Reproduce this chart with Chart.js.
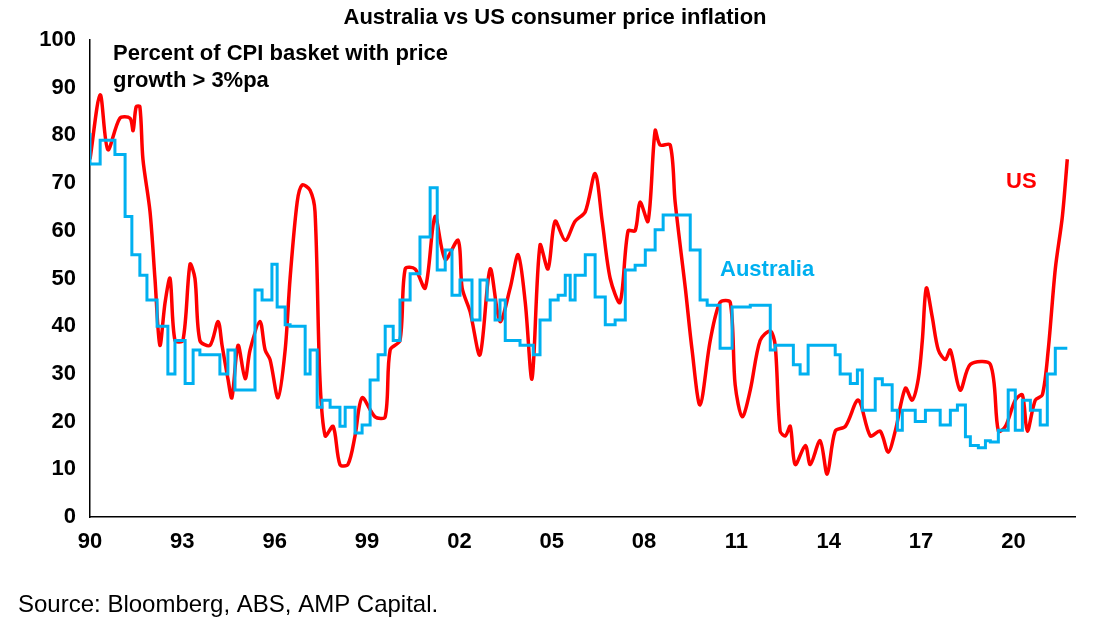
<!DOCTYPE html>
<html><head><meta charset="utf-8">
<script src="https://cdn.jsdelivr.net/npm/chart.js@4/dist/chart.umd.min.js"></script>
<style>html,body{margin:0;padding:0;background:#fff}#c{display:block}</style>
</head><body>
<canvas id="c" width="1095" height="637"></canvas>
<script>
const usYears=[1990.0,1990.33,1990.58,1990.97,1991.3,1991.4,1991.5,1991.62,1991.72,1991.95,1992.11,1992.27,1992.44,1992.6,1992.76,1993.02,1993.25,1993.41,1993.57,1993.9,1994.16,1994.29,1994.48,1994.61,1994.81,1995.04,1995.2,1995.52,1995.69,1995.85,1996.11,1996.34,1996.5,1996.73,1996.89,1997.15,1997.31,1997.47,1997.64,1997.9,1998.12,1998.38,1998.61,1998.84,1999.26,1999.59,1999.75,2000.07,2000.24,2000.56,2000.89,2001.21,2001.54,2001.96,2002.09,2002.35,2002.67,2003.0,2003.32,2003.65,2003.91,2004.14,2004.36,2004.62,2004.88,2005.11,2005.44,2005.76,2006.09,2006.41,2006.64,2006.9,2007.22,2007.48,2007.71,2007.87,2008.13,2008.36,2008.52,2008.85,2009.01,2009.34,2009.56,2009.82,2010.15,2010.47,2010.8,2010.96,2011.19,2011.45,2011.77,2012.1,2012.26,2012.42,2012.59,2012.75,2012.91,2013.24,2013.4,2013.72,2013.95,2014.21,2014.54,2014.96,2015.35,2015.67,2015.93,2016.16,2016.49,2016.71,2016.91,2017.04,2017.17,2017.36,2017.56,2017.79,2017.95,2018.27,2018.6,2019.25,2019.51,2019.74,2020.06,2020.29,2020.45,2020.71,2020.94,2021.13,2021.36,2021.59,2021.75];
const usValues=[75,88.5,77,83.6,83.6,81,86,86,75,64,50,36,45,50,37,37,53,50,37,36,41,36,29,25,36,29,35,41,35,33,25,35,50,66,69.6,68.5,64,29,17,19,11,11,17,25,21,21,35,37,52,52,48,63,54,58,48,43,34,52,41,48,55,45,29,57,52,62,58,62,64,72,62,50,45,60,60,66,62,81,78,78,66,48,35,23.5,37,45,45,27.7,21,26.6,37,39,36,18,17,19,11,15,11,16,9,18,19,24.5,17,18,13.6,18,27,24.5,29,37,48,42,35,33,35,26.6,32,32,18,19,24.5,25.6,18,24.5,25.6,35,52,63,75];
const auYears=[1990.0,1990.33,1990.81,1991.14,1991.36,1991.62,1991.85,1992.18,1992.53,1992.76,1993.09,1993.35,1993.57,1994.22,1994.48,1994.71,1994.87,1995.36,1995.59,1995.91,1996.08,1996.34,1996.5,1996.99,1997.15,1997.38,1997.54,1997.8,1998.12,1998.29,1998.61,1998.84,1999.1,1999.36,1999.59,1999.85,2000.07,2000.4,2000.72,2001.05,2001.28,2001.54,2001.76,2002.02,2002.41,2002.67,2002.9,2003.16,2003.32,2003.49,2003.97,2004.4,2004.62,2004.95,2005.21,2005.44,2005.6,2005.76,2006.09,2006.41,2006.74,2007.06,2007.39,2007.71,2008.04,2008.36,2008.62,2009.5,2009.82,2010.05,2010.47,2010.86,2011.45,2012.1,2012.26,2012.85,2013.07,2013.33,2013.56,2014.21,2014.37,2014.7,2014.93,2015.09,2015.51,2015.74,2016.06,2016.23,2016.39,2016.81,2017.14,2017.62,2017.95,2018.18,2018.44,2018.6,2018.86,2019.09,2019.25,2019.51,2019.83,2020.06,2020.29,2020.55,2020.87,2021.1,2021.36,2021.52,2021.75];
const auValues=[80.5,74,79,76,63,55,50.7,45.5,40,30,37,28,35,34,30,35,26.6,26.6,47.6,45.5,53,44,40.3,40,30,35,23,24.5,23,19,23,17.6,19.3,28.7,34,40,37,45.5,51,58.7,69,51.8,56,46.5,49.7,41.3,49.7,45.5,41.3,45.5,37,36,34,41.3,45.5,46.5,50.7,45.5,50.7,55,46.1,40.3,41.3,51.8,52.8,56,60.2,63.3,56,45.5,44.4,35.4,44,44.4,35,36,31.9,30,36,36,34,30,28,30.8,22.4,29,27.7,22.4,18.2,22.4,20,22.4,19.3,22.4,23.5,16.8,15,14.5,16,15.7,18.2,26.6,18.2,24.5,22.4,19.3,30,35.4,35.4];
const yTicks=[0,10,20,30,40,50,60,70,80,90,100];
const xTicks=[1990,1993,1996,1999,2002,2005,2008,2011,2014,2017,2020];
const F='"Liberation Sans", Arial, sans-serif';
const textPlugin={id:'txt',afterDraw(ch){const c=ch.ctx;c.save();c.textBaseline='middle';
c.fillStyle='#000';c.font='bold 22px '+F;c.textAlign='center';c.fillText('Australia vs US consumer price inflation',555,18);
c.textAlign='left';c.fillText('Percent of CPI basket with price',113,54);c.fillText('growth > 3%pa',113,81);
c.fillStyle='#ff0000';c.fillText('US',1006,182);
c.fillStyle='#00b0f0';c.fillText('Australia',720,270);
c.fillStyle='#000';c.font='24px '+F;c.fillText('Source: Bloomberg, ABS, AMP Capital.',18,605);
c.restore();}};
new Chart(document.getElementById('c'),{type:'line',
data:{datasets:[
{label:'Australia',data:auYears.map((x,i)=>({x,y:auValues[i]})),borderColor:'#00b0f0',borderWidth:3,pointRadius:0,stepped:'after',tension:0},
{label:'US',data:usYears.map((x,i)=>({x,y:usValues[i]})),borderColor:'#ff0000',borderWidth:3.5,pointRadius:0,tension:0.3}]},
options:{responsive:false,animation:false,devicePixelRatio:1,
layout:{padding:{left:0,right:20,top:40,bottom:0}},
plugins:{legend:{display:false},tooltip:{enabled:false}},
scales:{
x:{type:'linear',min:1990,max:2022,afterBuildTicks(s){s.ticks=xTicks.map(v=>({value:v}));},
afterFit(s){s.height=120;},
grid:{display:false,drawTicks:true,tickLength:6,color:'#000'},border:{color:'#000',width:1.5},
ticks:{color:'#000',font:{family:F,size:22,weight:'bold'},padding:6,callback:v=>String(v%100).padStart(2,'0'),maxRotation:0}},
y:{min:0,max:100,afterBuildTicks(s){s.ticks=yTicks.map(v=>({value:v}));},
afterFit(s){s.width=90;},
grid:{display:false,tickLength:6},border:{color:'#000',width:1.5},
ticks:{color:'#000',font:{family:F,size:22,weight:'bold'},padding:8}}}},
plugins:[textPlugin]});
</script></body></html>
